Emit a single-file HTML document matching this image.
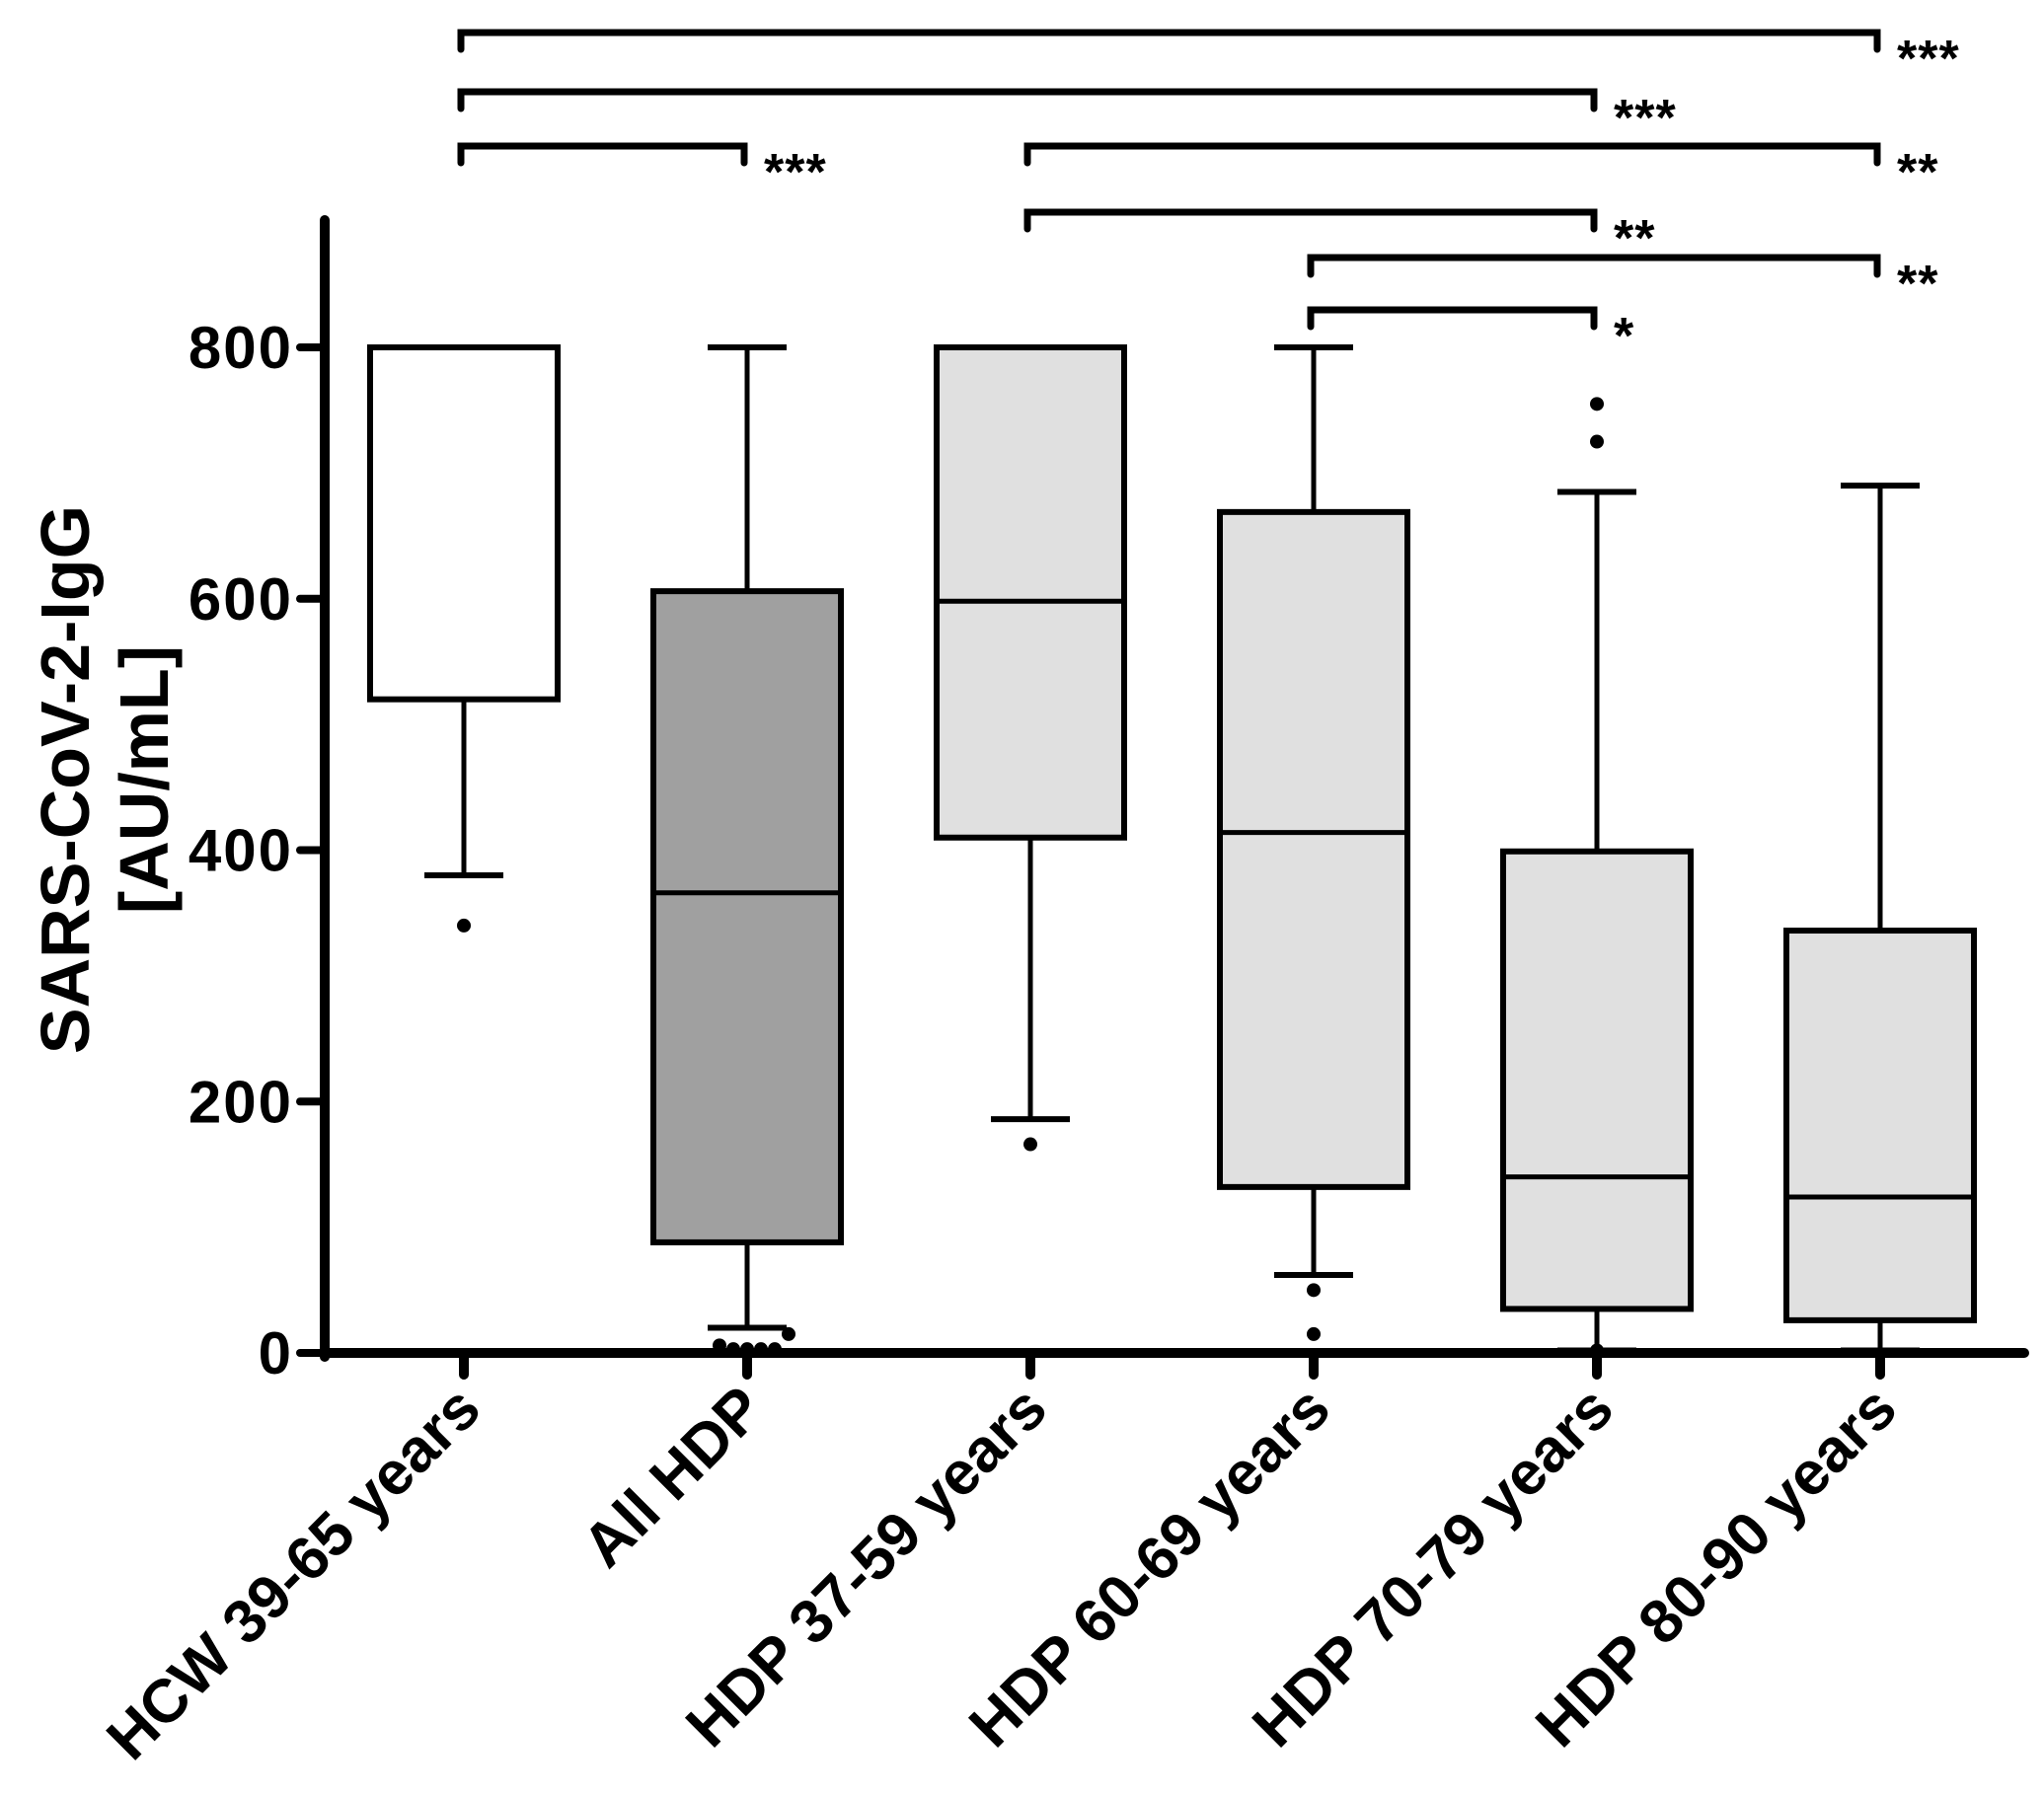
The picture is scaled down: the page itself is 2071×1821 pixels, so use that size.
<!DOCTYPE html>
<html><head><meta charset="utf-8"><style>
html,body{margin:0;padding:0;background:#fff}
svg{display:block}
text{font-family:"Liberation Sans",Arial,sans-serif;font-weight:bold;fill:#000}
</style></head><body>
<svg id="chart" width="2071" height="1821" viewBox="0 0 2071 1821" xmlns="http://www.w3.org/2000/svg">
<g id="g"></g>
</svg>
<script>
const categories = ["HCW 39-65 years","All HDP","HDP 37-59 years","HDP 60-69 years","HDP 70-79 years","HDP 80-90 years"];
const q1 = [520, 88, 410, 132, 35, 26];
const median = [800, 366, 598, 414, 140, 124];
const q3 = [800, 606, 800, 669, 399, 336];
const whiskerLow = [380, 20, 186, 62, 2, 2];
const whiskerHigh = [800, 800, 800, 800, 685, 690];
const fills = ["#ffffff","#a0a0a0","#e0e0e0","#e0e0e0","#e0e0e0","#e0e0e0"];
const outliers = [[340],[6,3,3,3,3,15],[166],[50,15],[755,725,2],[]];
const yTicks = [0,200,400,600,800];
const sigFrom = [0,0,0,2,2,3,3];
const sigTo = [5,4,1,5,4,5,4];
const sigLabel = ["***","***","***","**","**","**","*"];
const sigY = [33,93,148,148,215,261,314];

const NS="http://www.w3.org/2000/svg";
const g=document.getElementById('g');
const X0=329, Y0=1371, Y800=352;
const y=v=>Y0-(v/800)*(Y0-Y800);
const x=i=>470+i*287;
const HW=95;
function el(t,a,p){const e=document.createElementNS(NS,t);for(const k in a)e.setAttribute(k,a[k]);(p||g).appendChild(e);return e;}

let ax=el('line',{x1:X0,y1:223,x2:X0,y2:Y0+4,stroke:'#000','stroke-width':10,'stroke-linecap':'round'});


let xa=el('line',{x1:X0,y1:Y0,x2:2051,y2:Y0,stroke:'#000','stroke-width':10,'stroke-linecap':'round'});


yTicks.forEach(v=>{
  let t=el('line',{x1:X0-25,y1:y(v),x2:X0,y2:y(v),stroke:'#000','stroke-width':8,'stroke-linecap':'round'});
  
  
  let l=el('text',{x:X0-32,y:y(v)+21,'text-anchor':'end','font-size':60,'letter-spacing':2});
  l.textContent=v;
  
  
});
let yt=el('text',{transform:'translate(90,790) rotate(-90)','text-anchor':'middle','font-size':70});


let s1=el('tspan',{x:0,y:0},yt);s1.textContent='SARS-CoV-2-IgG';
let s2=el('tspan',{x:0,y:80},yt);s2.textContent='[AU/mL]';

categories.forEach((c,i)=>{
  const cx=x(i);
  let tk=el('line',{x1:cx,y1:Y0,x2:cx,y2:Y0+22,stroke:'#000','stroke-width':10,'stroke-linecap':'round'});
  
  
  let lb=el('text',{transform:`translate(${cx+20},${Y0+60}) rotate(-45)`,'text-anchor':'end','font-size':62});
  lb.textContent=c;
  
  
  const grp=el('g',{});
  
  
  el('line',{x1:cx,y1:y(whiskerHigh[i]),x2:cx,y2:y(q3[i]),stroke:'#000','stroke-width':5},grp);
  el('line',{x1:cx,y1:y(q1[i]),x2:cx,y2:y(whiskerLow[i]),stroke:'#000','stroke-width':5},grp);
  el('line',{x1:cx-40,y1:y(whiskerHigh[i]),x2:cx+40,y2:y(whiskerHigh[i]),stroke:'#000','stroke-width':6},grp);
  el('line',{x1:cx-40,y1:y(whiskerLow[i]),x2:cx+40,y2:y(whiskerLow[i]),stroke:'#000','stroke-width':6},grp);
  el('rect',{x:cx-HW,y:y(q3[i]),width:2*HW,height:y(q1[i])-y(q3[i]),fill:fills[i],stroke:'#000','stroke-width':6},grp);
  el('line',{x1:cx-HW,y1:y(median[i]),x2:cx+HW,y2:y(median[i]),stroke:'#000','stroke-width':5},grp);
  outliers[i].forEach((v,k)=>{
    const dx = outliers[i].length>3 ? (k-2)*14 : 0;
    let d=el('circle',{cx:cx+dx,cy:y(v),r:7,fill:'#000'},grp);
    
    
  });
});

sigLabel.forEach((s,k)=>{
  const xa_=x(sigFrom[k])-3, xb=x(sigTo[k])-3, yy=sigY[k];
  let b=el('path',{d:`M${xa_},${yy+17} V${yy} H${xb} V${yy+17}`,fill:'none',stroke:'#000','stroke-width':7,'stroke-linecap':'round'});
  
  
  let t=el('text',{x:xb+20,y:yy+44,'font-size':52,'font-weight':'normal','letter-spacing':1});
  t.textContent=s;
  
  
});
</script>
</body></html>
